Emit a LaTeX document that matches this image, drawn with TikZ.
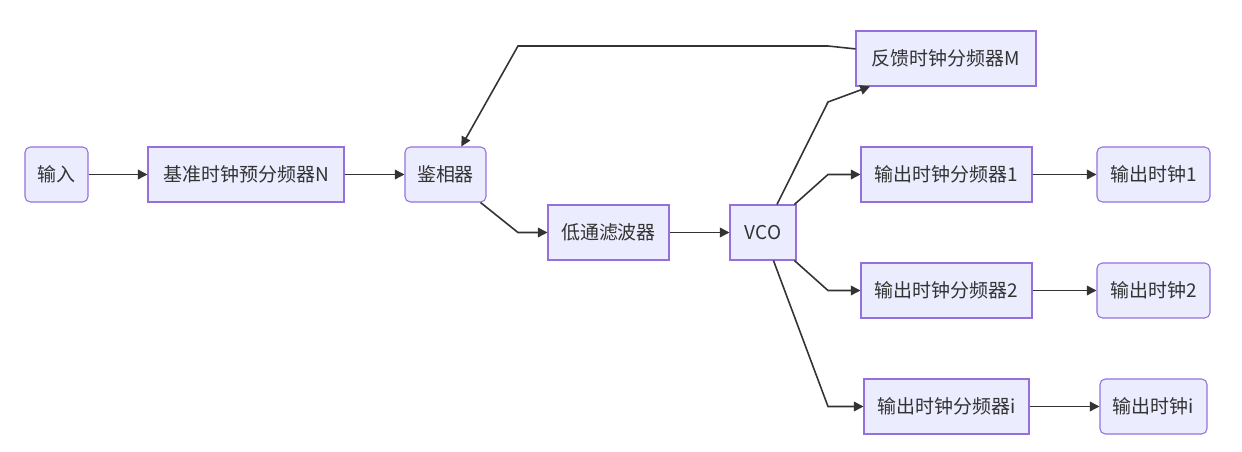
\documentclass[tikz,border=0pt]{standalone}
\usepackage{fontspec}
\setmainfont{Noto Sans CJK SC}
\usepackage{xcolor}
\usetikzlibrary{arrows.meta, positioning, calc}
\definecolor{boxfill}{HTML}{ECECFF}
\definecolor{boxline}{HTML}{9370DB}
\definecolor{ink}{HTML}{333333}
\tikzset{
  blk/.style={draw=boxline, fill=boxfill, line width=0.6pt, text=ink,
    minimum height=1.1cm, inner sep=0pt, font=\fontsize{10.8}{13}\selectfont},
  rblk/.style={blk, rounded corners=3pt},
  flow/.style={draw=ink, line width=0.9pt, -{Triangle[length=5.5pt,width=5.5pt]}}
}

\begin{document}
\begin{tikzpicture}[x=0.02cm, y=-0.02cm]
      \useasboundingbox (0,0) rectangle (1242,452);

      % input side
      \node[rblk, minimum width=1.26cm] (in) at (56.5,174.5) {输入};
      \node[blk, minimum width=3.92cm] (prediv) at (246,174.5) {基准时钟预分频器N};
      \node[rblk, minimum width=1.62cm] (pd) at (445.5,174.5) {鉴相器};
      \node[blk, minimum width=2.42cm] (lpf) at (608.5,232.5) {低通滤波器};
      \node[blk, minimum width=1.32cm] (vco) at (763,232.5) {VCO};

      % dividers
      \node[blk, minimum width=3.6cm] (fbdiv) at (946,58.5) {反馈时钟分频器M};
      \node[blk, minimum width=3.42cm] (div1) at (946.5,174.5) {输出时钟分频器1};
      \node[blk, minimum width=3.42cm] (div2) at (946.5,290.5) {输出时钟分频器2};
      \node[blk, minimum width=3.3cm] (divi) at (946.5,406.5) {输出时钟分频器i};

      % outputs
      \node[rblk, minimum width=2.26cm] (clk1) at (1153.5,174.5) {输出时钟1};
      \node[rblk, minimum width=2.26cm] (clk2) at (1153.5,290.5) {输出时钟2};
      \node[rblk, minimum width=2.14cm] (clki) at (1153.5,406.5) {输出时钟i};

      % forward path
      \draw[flow] (in) -- (prediv);
      \draw[flow] (prediv) -- (pd);
      \draw[flow] (pd) -- (518,232.5) -- (lpf);
      \draw[flow] (lpf) -- (vco);

      % vco fan-out
      \draw[flow] (vco) -- (828,102) -- (fbdiv);
      \draw[flow] (vco) -- (828,174.5) -- (div1);
      \draw[flow] (vco) -- (828,290.5) -- (div2);
      \draw[flow] (vco) -- (828,406.5) -- (divi);

      % feedback
      \draw[flow] (fbdiv) -- (828,46) -- (518,46) -- (pd);

      \draw[flow] (div1) -- (clk1);
      \draw[flow] (div2) -- (clk2);
      \draw[flow] (divi) -- (clki);
    \end{tikzpicture}
\end{document}
